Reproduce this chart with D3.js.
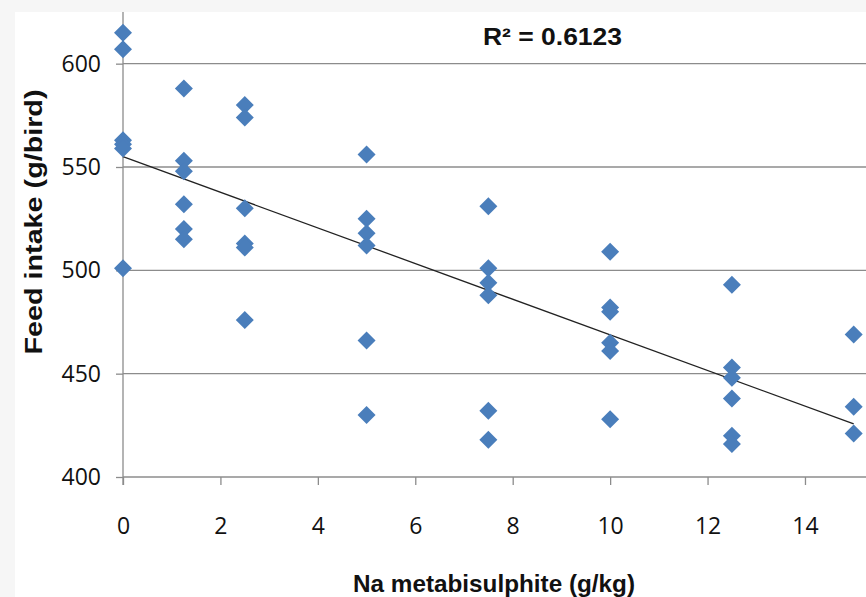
<!DOCTYPE html>
<html>
<head>
<meta charset="utf-8">
<script src="https://cdn.jsdelivr.net/npm/d3@7"></script>
<style>
  body { margin: 0; background: #f6f6f6; }
  svg { display: block; }
</style>
</head>
<body>
<div id="chart"></div>
<script>
var width = 866;
var height = 597;

// dose levels (g/kg) and feed intake readings (g/bird)
var doses = [0, 1.25, 2.5, 5, 7.5, 10, 12.5, 15];
var intake = [
    [615, 607, 563, 561, 559, 501],
    [588, 553, 548, 532, 520, 515],
    [580, 574, 530, 513, 511, 476],
    [556, 525, 518, 512, 466, 430],
    [531, 501, 494, 488, 432, 418],
    [509, 482, 480, 465, 461, 428],
    [493, 453, 448, 438, 420, 416],
    [469, 434, 421]
];
var xTicks = [0, 2, 4, 6, 8, 10, 12, 14];
var yTicks = [400, 450, 500, 550, 600];
var trendIntercept = 555;
var trendSlope = -8.62;
var rSquared = "0.6123";

var svg = d3.select("#chart")
    .append("svg")
    .attr("width", width)
    .attr("height", height);

svg.append("rect")
    .attr("width", width).attr("height", height)
    .attr("fill", "#f6f6f6");
svg.append("rect")
    .attr("x", 15).attr("y", 12)
    .attr("width", width - 15).attr("height", height - 12)
    .attr("fill", "#ffffff");

var x = d3.scaleLinear().domain([0, 16]).range([123, 902.4]);
var y = d3.scaleLinear().domain([400, 625]).range([477, 12]);

var points = [];
doses.forEach(function(d, i){
    intake[i].forEach(function(v){ points.push({dose: d, value: v}); });
});

// gridlines
svg.append("g")
    .selectAll("line")
    .data(yTicks.slice(1))
    .enter().append("line")
    .attr("x1", x(0)).attr("x2", width)
    .attr("y1", function(d){ return y(d); })
    .attr("y2", function(d){ return y(d); })
    .attr("stroke", "#8c8c8c")
    .attr("stroke-width", 1.3);

// y axis
var yAxis = svg.append("g")
    .attr("transform", "translate(" + x(0) + ",0)")
    .call(d3.axisLeft(y).tickValues(yTicks).tickSize(7).tickPadding(15));
// x axis
var xAxis = svg.append("g")
    .attr("transform", "translate(0," + y(400) + ")")
    .call(d3.axisBottom(x).tickValues(xTicks).tickSize(8));

[yAxis, xAxis].forEach(function(ax){
    ax.select(".domain").attr("stroke", "#8c8c8c").attr("stroke-width", 1.3);
    ax.selectAll(".tick line").attr("stroke", "#8c8c8c").attr("stroke-width", 1.3);
    ax.selectAll(".tick text")
        .attr("fill", "#111")
        .style("font-family", "'Open Sans', sans-serif")
        .style("font-size", "23px");
});
yAxis.select(".domain").attr("d", "M0," + y(625) + "V" + (y(400) + 8));
xAxis.select(".domain").attr("d", "M" + x(0) + ",0H" + width);
xAxis.selectAll(".tick text").attr("dy", "0.35em").attr("y", 49);

// trend line
svg.append("line")
    .attr("x1", x(0)).attr("y1", y(trendIntercept))
    .attr("x2", x(15)).attr("y2", y(trendIntercept + trendSlope * 15))
    .attr("stroke", "#222")
    .attr("stroke-width", 1.3);

// diamonds
svg.append("g")
    .selectAll("path")
    .data(points)
    .enter().append("path")
    .attr("transform", function(d){ return "translate(" + x(d.dose) + "," + y(d.value) + ")"; })
    .attr("d", "M0,-9L9,0L0,9L-9,0Z")
    .attr("fill", "#4a7ebb");

// labels
svg.append("text")
    .attr("x", 483).attr("y", 45)
    .attr("font-family", "'Liberation Sans', Arial, sans-serif")
    .attr("font-weight", "bold")
    .attr("font-size", 24)
    .attr("fill", "#111")
    .attr("textLength", 139)
    .attr("lengthAdjust", "spacingAndGlyphs")
    .text("R\u00b2 = " + rSquared);

svg.append("text")
    .attr("transform", "translate(42,222) rotate(-90)")
    .attr("text-anchor", "middle")
    .attr("font-family", "'Liberation Sans', Arial, sans-serif")
    .attr("font-weight", "bold")
    .attr("font-size", 23)
    .attr("fill", "#111")
    .attr("textLength", 265)
    .attr("lengthAdjust", "spacingAndGlyphs")
    .text("Feed intake (g/bird)");

svg.append("text")
    .attr("x", 494).attr("y", 592)
    .attr("text-anchor", "middle")
    .attr("font-family", "'Liberation Sans', Arial, sans-serif")
    .attr("font-weight", "bold")
    .attr("font-size", 24)
    .attr("fill", "#111")
    .attr("textLength", 282)
    .attr("lengthAdjust", "spacingAndGlyphs")
    .text("Na metabisulphite (g/kg)");
</script>
</body>
</html>
